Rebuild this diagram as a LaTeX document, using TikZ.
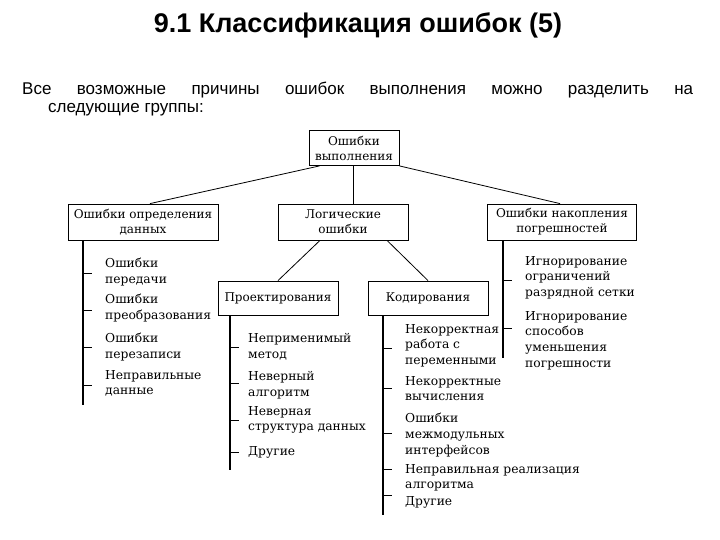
\documentclass[tikz,border=0pt]{standalone}
\usepackage{fontspec}
\setmainfont{DejaVu Serif}
\newfontfamily\sansf{Liberation Sans}
\begin{document}
\begin{tikzpicture}[x=1pt,y=-1pt,
  box/.style={draw,line width=0.8pt,font=\fontsize{12}{15}\selectfont,align=center,inner sep=0pt},
  item/.style={anchor=north west,font=\fontsize{12.3}{15.7}\selectfont,align=left,inner sep=0pt},
  ln/.style={line width=0.8pt},
  bar/.style={line width=1.2pt}]
\useasboundingbox (0,0) rectangle (720,540);
\node[font=\sansf\bfseries\fontsize{27}{30}\selectfont] (title) at (358,25) {9.1 Классификация ошибок (5)};
\node[anchor=west,font=\sansf\fontsize{17}{19}\selectfont,inner sep=0pt] (p1) at (22,90) {\makebox[671pt][s]{Все возможные причины ошибок выполнения можно разделить на}};
\node[anchor=west,font=\sansf\fontsize{17}{19}\selectfont,inner sep=0pt] (p2) at (48,110) {следующие группы:};

\node[box,minimum width=90,minimum height=35] (top) at (354,148) {Ошибки\\выполнения};
\node[box,minimum width=150,minimum height=36] (def) at (143,222) {Ошибки определения\\данных};
\node[box,minimum width=130,minimum height=36] (log) at (343,222) {Логические\\ошибки};
\node[box,minimum width=149,minimum height=36] (acc) at (562,222) {Ошибки накопления\\погрешностей};
\node[box,minimum width=120,minimum height=34] (proj) at (278,298) {Проектирования};
\node[box,minimum width=120,minimum height=34] (cod) at (428,298) {Кодирования};

\draw[ln] ([xshift=11pt]top.south west) -- ([xshift=7pt]def.north);
\draw[ln] ([xshift=-1pt]top.south) -- ([xshift=10pt]log.north);
\draw[ln] (top.south east) -- ([xshift=-2pt]acc.north);
\draw[ln] ([xshift=-23pt]log.south) -- (proj.north);
\draw[ln] ([xshift=44pt]log.south) -- (cod.north);

% left group
\coordinate (b1e) at (83,405);
\draw[bar] (def.south -| b1e) -- (b1e);
\foreach \y in {273,310,347,385} \draw[ln] (83,\y) -- (92,\y);
\node[item] (l1) at (105,258) {Ошибки\\передачи};
\node[item] (l2) at (105,294) {Ошибки\\преобразования};
\node[item] (l3) at (105,333) {Ошибки\\перезаписи};
\node[item] (l4) at (105,370) {Неправильные\\данные};

% proj group
\coordinate (b2e) at (230,470);
\draw[bar] (proj.south -| b2e) -- (b2e);
\foreach \y in {347,383,420,452} \draw[ln] (230,\y) -- (239,\y);
\node[item] (p1a) at (248,333) {Неприменимый\\метод};
\node[item] (p2a) at (248,371) {Неверный\\алгоритм};
\node[item] (p3a) at (248,406) {Неверная\\структура данных};
\node[item] (p4a) at (248,446) {Другие};

% cod group
\coordinate (b3e) at (383,515);
\draw[bar] (cod.south -| b3e) -- (b3e);
\foreach \y in {348,388,433,469,495} \draw[ln] (383,\y) -- (392,\y);
\node[item] (c1) at (405,324) {Некорректная\\работа с\\переменными};
\node[item] (c2) at (405,376) {Некорректные\\вычисления};
\node[item] (c3) at (405,413) {Ошибки\\межмодульных\\интерфейсов};
\node[item] (c4) at (405,464) {Неправильная реализация\\алгоритма};
\node[item] (c5) at (405,496) {Другие};

% acc group
\coordinate (b4e) at (503,358);
\draw[bar] (acc.south -| b4e) -- (b4e);
\foreach \y in {280,328} \draw[ln] (503,\y) -- (512,\y);
\node[item] (a1) at (525,256) {Игнорирование\\ограничений\\разрядной сетки};
\node[item] (a2) at (525,311) {Игнорирование\\способов\\уменьшения\\погрешности};
\end{tikzpicture}
\end{document}
